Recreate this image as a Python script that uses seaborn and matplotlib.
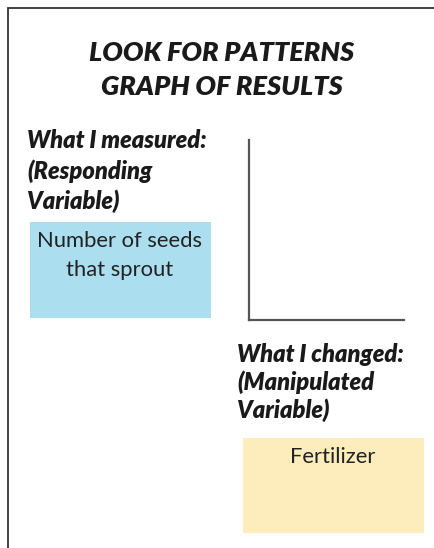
import matplotlib
matplotlib.use("Agg")
import matplotlib.pyplot as plt
from matplotlib.patches import Rectangle
from matplotlib.lines import Line2D
import seaborn as sns
import pandas as pd

title_lines = ["LOOK FOR PATTERNS", "GRAPH OF RESULTS"]
measured_lines = ["What I measured:", "(Responding", "Variable)"]
measured_value = ["Number of seeds", "that sprout"]
changed_lines = ["What I changed:", "(Manipulated", "Variable)"]
changed_value = ["Fertilizer"]

sns.set_theme(style="white")
plt.rcParams["font.family"] = ["Lato", "DejaVu Sans"]

W, H = 435, 548
fig = plt.figure(figsize=(W / 100, H / 100), dpi=100)
fig.patch.set_facecolor("white")

def fx(x): return x / W
def fy(y): return 1 - y / H

# page frame
fig.add_artist(Line2D([fx(8), fx(8)], [fy(8), fy(548)], transform=fig.transFigure, color="#333333", lw=1.3))
fig.add_artist(Line2D([fx(8), fx(435)], [fy(8), fy(8)], transform=fig.transFigure, color="#333333", lw=1.3))

# empty graph axes
ax = fig.add_axes([fx(249), fy(320), fx(404) - fx(249), fy(140) - fy(320)])
empty = pd.DataFrame({"x": pd.Series([], dtype=float), "y": pd.Series([], dtype=float)})
sns.lineplot(data=empty, x="x", y="y", ax=ax)
sns.despine(ax=ax)
ax.set_xticks([]); ax.set_yticks([])
ax.set_xlabel(""); ax.set_ylabel("")
ax.patch.set_alpha(0)
for s in ("left", "bottom"):
    ax.spines[s].set_color("#555555")
    ax.spines[s].set_linewidth(1.6)

# title
for i, t in enumerate(title_lines):
    fig.text(fx(222), fy(53 + 34 * i), t, ha="center", va="center",
             fontsize=19.5, fontweight="heavy", style="italic", color="#1a1a1a")

# label blocks
for i, t in enumerate(measured_lines):
    fig.text(fx(27), fy(141 + 30 * i), t, ha="left", va="center",
             fontsize=17, fontweight="heavy", style="italic", color="#1a1a1a")
for i, t in enumerate(changed_lines):
    fig.text(fx(237), fy(354 + 28 * i), t, ha="left", va="center",
             fontsize=17, fontweight="heavy", style="italic", color="#1a1a1a")

# colored boxes
fig.add_artist(Rectangle((fx(30), fy(318)), fx(211) - fx(30), fy(222) - fy(318),
                         transform=fig.transFigure, facecolor="#abdff0", edgecolor="none"))
fig.add_artist(Rectangle((fx(243), fy(533)), fx(424) - fx(243), fy(438) - fy(533),
                         transform=fig.transFigure, facecolor="#fdedbd", edgecolor="none"))

for i, t in enumerate(measured_value):
    fig.text(fx(120), fy(241 + 29 * i), t, ha="center", va="center", fontsize=15.8, color="#222222")
for i, t in enumerate(changed_value):
    fig.text(fx(333), fy(457 + 29 * i), t, ha="center", va="center", fontsize=15.8, color="#222222")

fig.savefig("out.png", dpi=100)
